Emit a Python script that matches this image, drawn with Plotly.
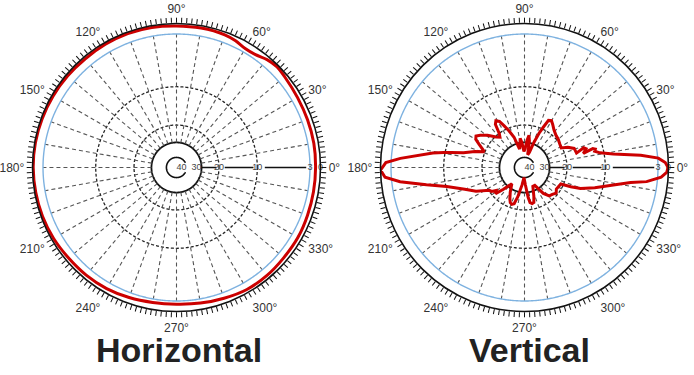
import numpy as np
import plotly.graph_objects as go

# ---------------- data ----------------
# radial scale rings (dB) and their labels
ring_db = [-40, -30, -20, -10, -3, 0]
ring_labels = ["40", "30", "20", "10", "3", "0"]
# fraction of outer radius at which each ring sits (non-linear dB scale)
ring_frac = [0.07, 0.174, 0.295, 0.561, 0.927, 1.0]

# angular tick labels
angle_ticks = list(range(0, 360, 2))
angle_labels = [f"{a}°" if a % 30 == 0 else "" for a in angle_ticks]
spoke_angles = list(range(10, 360, 10))

# Horizontal pattern (deg, dB)
h_theta = [0, 10, 20, 30, 40, 45, 50, 55, 60, 65, 70, 80, 90, 100, 110, 120, 130, 140,
           150, 160, 170, 180, 190, 200, 210, 220, 230, 240, 250, 260, 270, 280, 290,
           300, 310, 320, 330, 340, 350, 360]
h_db = [-1.4, -1.3, -1.3, -1.2, -0.8, -0.5, -0.9, -1.8, -1.9, -1.2, -0.8, -0.7, -0.7,
        -0.5, -0.4, -0.5, -0.6, -0.5, -0.4, -0.3, -0.2, -0.2, -0.3, -0.4, -0.6, -0.9,
        -1.0, -1.2, -1.6, -2.0, -2.1, -1.8, -1.4, -0.9, -0.9, -1.1, -1.1, -1.3, -1.4, -1.4]

# Vertical pattern (deg, dB)
v_theta = [0, 2, 4, 6, 8.6, 11, 13, 14.5, 15.5, 13.5, 17, 18.5, 15.5, 21, 25, 28, 34, 40,
           46, 52, 57, 60, 63, 65, 67, 69.5, 72, 76, 79.5, 82, 84.5, 88, 92, 96, 98.5, 101,
           105, 109, 113, 116, 118.5, 121.5, 124, 126.5, 129, 133, 139, 144, 147, 150, 153,
           156, 158.5, 162, 166.4, 168.5, 169.5, 171, 175.8, 178, 181, 184, 186.5, 190,
           193.8, 200, 206, 213, 216, 219, 222, 226, 232, 240, 245, 248, 251, 254, 257,
           262, 267, 273, 277, 279, 282, 285, 288, 294, 300, 306, 311, 316, 321, 326, 331,
           335.5, 337.5, 339.5, 344, 348.9, 352, 353.4, 356, 358, 360]
v_db = [-0.1, -0.9, -2.8, -5.2, -8.8, -11.0, -12.3, -12.0, -12.6, -15.3, -14.3, -14.8,
        -17.0, -17.2, -18.6, -20.5, -20.0, -19.6, -19.3, -18.6, -17.6, -17.0, -17.3,
        -19.5, -23.0, -29.0, -36.0, -38.0, -29.0, -25.8, -28.5, -34.0, -36.0, -30.0,
        -27.5, -31.0, -34.0, -26.0, -21.5, -19.0, -17.4, -16.8, -17.5, -20.0, -22.0,
        -20.5, -18.3, -16.8, -16.0, -16.4, -17.8, -19.0, -19.8, -17.5, -14.7, -11.5,
        -9.8, -8.4, -4.2, -1.5, 0.0, -1.2, -4.1, -7.5, -10.2, -14.5, -17.0, -20.3, -21.0,
        -23.5, -22.0, -27.0, -33.0, -28.0, -24.5, -22.6, -22.0, -22.8, -27.0, -35.0,
        -40.0, -35.0, -27.0, -24.0, -23.2, -23.6, -27.0, -33.0, -33.0, -26.0, -22.8,
        -22.2, -21.0, -22.3, -22.0, -21.5, -18.0, -15.5, -12.0, -8.7, -6.5, -4.4, -2.0,
        -0.5, -0.1]


def scale(db):
    """Map dB to radial fraction using the chart's non-linear ring scale."""
    return np.interp(db, [-50] + ring_db, [0.0] + ring_frac)


fig = go.Figure()

RED = "#cc0000"
BLUE = "#7eb2e0"
GREY = "#555555"


def add_grid(sub):
    full = np.linspace(0, 360, 721)
    # -40 ring (open at label)
    t40 = np.linspace(28, 332, 300)
    fig.add_trace(go.Scatterpolar(theta=t40, r=np.full(t40.size, scale(-40)), mode="lines",
                                  line=dict(color="#111", width=1.6), subplot=sub, hoverinfo="skip"))
    # -30 ring
    fig.add_trace(go.Scatterpolar(theta=full, r=np.full(full.size, scale(-30)), mode="lines",
                                  line=dict(color="#111", width=1.8), subplot=sub, hoverinfo="skip"))
    # -20 / -10 dashed rings
    for d in (-20, -10):
        fig.add_trace(go.Scatterpolar(theta=full, r=np.full(full.size, scale(d)), mode="lines",
                                      line=dict(color="#222", width=1.3, dash="3px,2px"),
                                      subplot=sub, hoverinfo="skip"))
    # spokes
    th, rr = [], []
    for a in spoke_angles:
        th += [a, a, None]
        rr += [scale(-30), scale(-3), None]
    fig.add_trace(go.Scatterpolar(theta=th, r=rr, mode="lines", connectgaps=False,
                                  line=dict(color=GREY, width=1.1, dash="4px,3px"),
                                  subplot=sub, hoverinfo="skip"))
    # -3 blue ring
    fig.add_trace(go.Scatterpolar(theta=full, r=np.full(full.size, scale(-3)), mode="lines",
                                  line=dict(color=BLUE, width=1.4), subplot=sub, hoverinfo="skip"))
    # 0-degree solid axis segments (gaps at labels)
    segs = [(-30, -21.5), (-18.5, -11), (-9, -3.5)]
    th, rr = [], []
    for a, b in segs:
        th += [0, 0, None]
        rr += [scale(a), scale(b), None]
    fig.add_trace(go.Scatterpolar(theta=th, r=rr, mode="lines", connectgaps=False,
                                  line=dict(color="#111", width=1.5), subplot=sub, hoverinfo="skip"))
    # ring labels
    fig.add_trace(go.Scatterpolar(theta=[0] * len(ring_db), r=scale(ring_db), mode="text",
                                  text=ring_labels,
                                  textposition=["middle left", "middle left", "middle center",
                                                "middle center", "middle center", "middle center"],
                                  textfont=dict(size=9, color="#444", family="Arial"),
                                  subplot=sub, hoverinfo="skip"))


add_grid("polar")
add_grid("polar2")

fig.add_trace(go.Scatterpolar(theta=h_theta, r=scale(h_db), mode="lines",
                              line=dict(color=RED, width=3, shape="spline", smoothing=0.8),
                              subplot="polar", hoverinfo="skip"))
fig.add_trace(go.Scatterpolar(theta=v_theta, r=scale(v_db), mode="lines",
                              line=dict(color=RED, width=3),
                              subplot="polar2", hoverinfo="skip"))


def polar_layout(xdom):
    return dict(
        domain=dict(x=xdom, y=[63.5 / 375, 351.5 / 375]),
        bgcolor="white",
        radialaxis=dict(visible=False, range=[0, 1], showgrid=False),
        angularaxis=dict(
            rotation=0, direction="counterclockwise",
            tickmode="array", tickvals=angle_ticks, ticktext=angle_labels,
            showgrid=False, showline=True, linecolor="#111", linewidth=1.6,
            ticks="outside", ticklen=5, tickwidth=1.4, tickcolor="#111",
            tickfont=dict(size=12, color="#333", family="Arial"),
        ),
    )


fig.update_layout(
    width=694, height=375,
    margin=dict(l=0, r=0, t=0, b=0),
    paper_bgcolor="white",
    showlegend=False,
    polar=polar_layout([32.5 / 694, 320.5 / 694]),
    polar2=polar_layout([380.5 / 694, 668.5 / 694]),
    annotations=[
        dict(text="<b>Horizontal</b>", x=179 / 694, y=0.066, xref="paper", yref="paper",
             showarrow=False, xanchor="center", yanchor="middle",
             font=dict(size=34, color="#222", family="Arial")),
        dict(text="<b>Vertical</b>", x=529 / 694, y=0.066, xref="paper", yref="paper",
             showarrow=False, xanchor="center", yanchor="middle",
             font=dict(size=34, color="#222", family="Arial")),
    ],
)

fig.write_html("out.html")
